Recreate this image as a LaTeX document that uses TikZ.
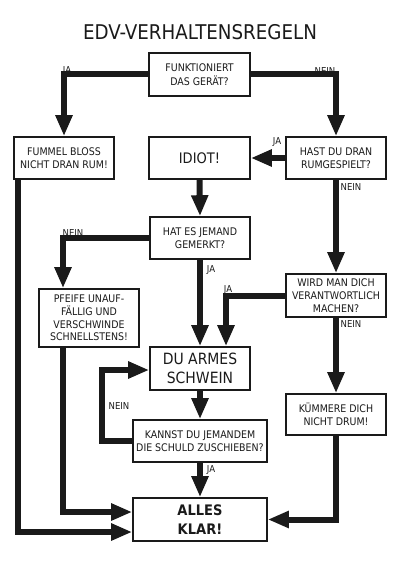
\documentclass[tikz,border=0pt]{standalone}
\usepackage{fontspec}
\setmainfont{DejaVu Sans Condensed}
\usetikzlibrary{arrows.meta,calc}
\definecolor{ink}{HTML}{1A1A1A}
\begin{document}
\begin{tikzpicture}[x=1pt,y=-1pt,
  box/.style={draw=ink,line width=1.6pt,inner sep=0pt,align=center,text=ink,font=\fontsize{10.5}{13.5}\selectfont,minimum width=#1,minimum height=43pt},
  box/.default=101pt,
  flow/.style={draw=ink,line width=6pt,-{Triangle[width=16pt,length=21pt]}},
  lbl/.style={font=\fontsize{9.5}{10}\selectfont,inner sep=0pt,text=ink}]
\useasboundingbox (0,0) rectangle (400,564);
\node[font=\fontsize{20.3}{24}\selectfont,text=ink] (title) at (200,32) {EDV-VERHALTENSREGELN};
\node[box] (funk) at (199.5,74.5) {FUNKTIONIERT\\DAS GERÄT?};
\node[box=100pt,minimum height=42pt] (fummel) at (64,158) {FUMMEL BLOSS\\NICHT DRAN RUM!};
\node[box,minimum height=42pt,font=\fontsize{14.5}{16}\selectfont] (idiot) at (199.5,158) {IDIOT!};
\node[box=100pt,minimum height=42pt] (hast) at (336,158) {HAST DU DRAN\\RUMGESPIELT?};
\node[box=100pt,minimum height=42pt] (hat) at (200,238) {HAT ES JEMAND\\GEMERKT?};
\node[box=100pt,minimum height=58pt,font=\fontsize{10.5}{12.7}\selectfont] (pfeife) at (89,318) {PFEIFE UNAUF-\\FÄLLIG UND\\VERSCHWINDE\\SCHNELLSTENS!};
\node[box=100pt,font=\fontsize{10.5}{12.7}\selectfont] (wird) at (336,295.5) {WIRD MAN DICH\\VERANTWORTLICH\\MACHEN?};
\node[box=100pt,font=\fontsize{15.5}{19}\selectfont] (armes) at (200,368.5) {DU ARMES\\SCHWEIN};
\node[box=100pt,minimum height=41pt] (kummer) at (336,414.5) {KÜMMERE DICH\\NICHT DRUM!};
\node[box=134pt,minimum height=42pt] (kannst) at (200,441) {KANNST DU JEMANDEM\\DIE SCHULD ZUSCHIEBEN?};
\node[box=134pt,font=\bfseries\fontsize{14.5}{19}\selectfont] (alles) at (200,519.5) {ALLES\\KLAR!};

\draw[flow] (funk.west) -| (fummel.north);
\draw[flow] (funk.east) -| (hast.north);
\draw[flow] (hast.west) -- (idiot.east);
\draw[flow] (idiot.south) -- (hat.north);
\draw[flow] (hat.west) -| ([xshift=-26pt]pfeife.north);
\draw[flow] (hat.south) -- (armes.north);
\draw[flow] (hast.south) -- (wird.north);
\draw[flow] (wird.west) -| ([xshift=26pt]armes.north);
\draw[flow] (wird.south) -- (kummer.north);
\draw[flow] (armes.south) -- (kannst.north);
\draw[flow] (kannst.west) -- ++(-30,0) |- ([yshift=-1.5pt]armes.west);
\draw[flow] (kannst.south) -- (alles.north);
\draw[flow] ([xshift=-26pt]pfeife.south) |- ([yshift=7.5pt]alles.west);
\draw[flow] ([xshift=-46pt]fummel.south) |- ([yshift=-12.5pt]alles.west);
\draw[flow] (kummer.south) |- (alles.east);

\node[lbl] (l1) at (67,71) {JA};
\node[lbl] (l2) at (325,71) {NEIN};
\node[lbl] (l3) at (277,142) {JA};
\node[lbl] (l4) at (351,187) {NEIN};
\node[lbl] (l5) at (73,233) {NEIN};
\node[lbl] (l6) at (211,270) {JA};
\node[lbl] (l7) at (228,290) {JA};
\node[lbl] (l8) at (351,324) {NEIN};
\node[lbl] (l9) at (119,406) {NEIN};
\node[lbl] (l10) at (211,470) {JA};
\end{tikzpicture}
\end{document}
